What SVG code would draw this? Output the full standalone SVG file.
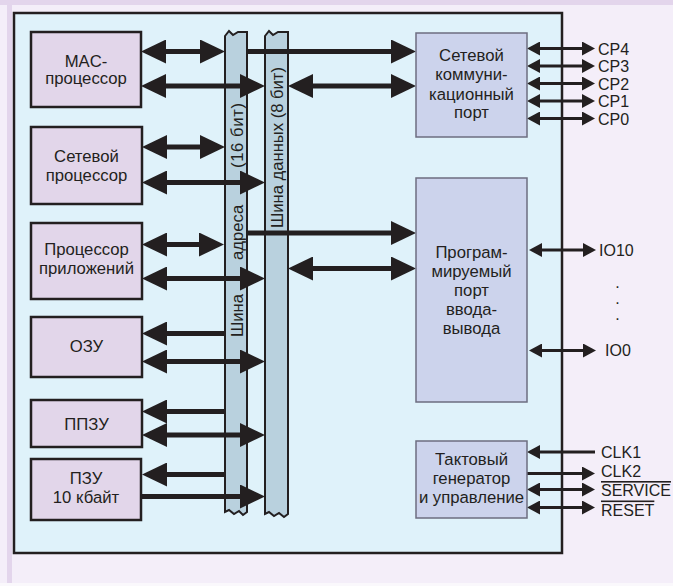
<svg xmlns="http://www.w3.org/2000/svg" width="673" height="586" viewBox="0 0 673 586">
<defs>
<style>
text{font-family:"Liberation Sans","Arial",sans-serif;font-size:16.7px;fill:#231f20}
.c{text-anchor:middle}
.pin{font-size:16px}
.lnode{fill:#e2d6ea;stroke:#231f20;stroke-width:2.5}
.rnode{fill:#ccd3ec;stroke:#6d6e80;stroke-width:1.5}
.bus{fill:#b9d1de;stroke:#231f20;stroke-width:2}
.thick{fill:none;stroke:#231f20;stroke-width:5}
.thin{fill:none;stroke:#231f20;stroke-width:3}
.ov{text-decoration:overline}
</style>
<marker id="big" markerUnits="userSpaceOnUse" markerWidth="26" markerHeight="24" viewBox="0 0 25 24" refX="0" refY="12" orient="auto-start-reverse"><path d="M0,0 L25,12 L0,24 Z" fill="#231f20"/></marker>
<marker id="sm" markerUnits="userSpaceOnUse" markerWidth="14" markerHeight="14" viewBox="0 0 13 14" refX="0" refY="7" orient="auto-start-reverse"><path d="M0,0 L13,7 L0,14 Z" fill="#231f20"/></marker>
</defs>
<rect x="0" y="0" width="673" height="586" fill="#f4eef9"/>
<rect x="0" y="0" width="673" height="5" fill="#e3d5ec"/>
<rect x="7" y="5" width="5" height="578" fill="#e3d5ec"/>
<rect x="0" y="583" width="673" height="3" fill="#faf8fc"/>
<rect id="board" x="14" y="13" width="548" height="540" fill="#dff2fa" stroke="#231f20" stroke-width="2.5"/>

<g id="addr-bus">
<path class="bus" d="M225,36 L229,31 L233,35 L238,32 L247,32 L247,512 L243,515 L239,511 L234,514 L229,510 L225,512 Z"/>
<text transform="translate(242.5,337) rotate(-90)"><tspan x="0" y="0">Шина</tspan><tspan x="77" y="0">адреса</tspan><tspan x="169" y="0" textLength="65" lengthAdjust="spacing">(16 бит)</tspan></text>
</g>
<g id="data-bus">
<path class="bus" d="M265,36 L269,31 L273,35 L278,32 L288,32 L288,514 L284,517 L279,513 L274,516 L269,512 L265,514 Z"/>
<text transform="translate(283,228) rotate(-90)" textLength="161" lengthAdjust="spacing">Шина данных (8 бит)</text>
</g>

<g id="connectors">
<path class="thick" d="M166,51.5 H200" marker-start="url(#big)" marker-end="url(#big)"/>
<path class="thick" d="M166,86 H240" marker-start="url(#big)" marker-end="url(#big)"/>
<path class="thick" d="M247,51.5 H391" marker-end="url(#big)"/>
<path class="thick" d="M313,86 H391" marker-start="url(#big)" marker-end="url(#big)"/>
<path class="thick" d="M167,147 H200" marker-start="url(#big)" marker-end="url(#big)"/>
<path class="thick" d="M167,182.5 H240" marker-start="url(#big)" marker-end="url(#big)"/>
<path class="thick" d="M167,244.5 H199" marker-start="url(#big)" marker-end="url(#big)"/>
<path class="thick" d="M167,278.5 H240" marker-start="url(#big)" marker-end="url(#big)"/>
<path class="thick" d="M247,233 H391" marker-end="url(#big)"/>
<path class="thick" d="M313,268.5 H391" marker-start="url(#big)" marker-end="url(#big)"/>
<path class="thick" d="M225,333.5 H167" marker-end="url(#big)"/>
<path class="thick" d="M167,361.5 H240" marker-start="url(#big)" marker-end="url(#big)"/>
<path class="thick" d="M225,411.5 H167" marker-end="url(#big)"/>
<path class="thick" d="M167,435 H240" marker-start="url(#big)" marker-end="url(#big)"/>
<path class="thick" d="M225,474.5 H167" marker-end="url(#big)"/>
<path class="thick" d="M141,496.5 H240" marker-end="url(#big)"/>

<path class="thin" d="M540,48.5 H582" marker-start="url(#sm)" marker-end="url(#sm)"/>
<path class="thin" d="M540,66 H582" marker-start="url(#sm)" marker-end="url(#sm)"/>
<path class="thin" d="M540,83.5 H582" marker-start="url(#sm)" marker-end="url(#sm)"/>
<path class="thin" d="M540,101 H582" marker-start="url(#sm)" marker-end="url(#sm)"/>
<path class="thin" d="M540,118.5 H582" marker-start="url(#sm)" marker-end="url(#sm)"/>
<path class="thin" d="M542,250 H583" marker-start="url(#sm)" marker-end="url(#sm)"/>
<path class="thin" d="M542,350.5 H583" marker-start="url(#sm)" marker-end="url(#sm)"/>
<path class="thin" d="M595,452 H540" marker-end="url(#sm)"/>
<path class="thin" d="M527,473.5 H582" marker-end="url(#sm)"/>
<path class="thin" d="M540,489.5 H582" marker-start="url(#sm)" marker-end="url(#sm)"/>
<path class="thin" d="M540,507.5 H582" marker-start="url(#sm)" marker-end="url(#sm)"/>
</g>

<g id="mac">
<rect class="lnode" x="31" y="32" width="110" height="75"/>
<text class="c" x="86" y="66.5">MAC-</text>
<text class="c" x="86" y="84">процессор</text>
</g>
<g id="net-proc">
<rect class="lnode" x="31" y="127" width="111" height="77"/>
<text class="c" x="86.5" y="162">Сетевой</text>
<text class="c" x="86.5" y="180.5">процессор</text>
</g>
<g id="app-proc">
<rect class="lnode" x="31" y="223" width="111" height="76"/>
<text class="c" x="86.5" y="255">Процессор</text>
<text class="c" x="86.5" y="274">приложений</text>
</g>
<g id="ram">
<rect class="lnode" x="31" y="317" width="111" height="60"/>
<text class="c" x="86.5" y="352">ОЗУ</text>
</g>
<g id="eeprom">
<rect class="lnode" x="31" y="400" width="111" height="47"/>
<text class="c" x="86.5" y="429.5">ППЗУ</text>
</g>
<g id="rom">
<rect class="lnode" x="31" y="459" width="110" height="61"/>
<text class="c" x="86" y="484">ПЗУ</text>
<text class="c" x="86" y="503">10 кбайт</text>
</g>

<g id="comm-port">
<rect class="rnode" x="416" y="33" width="111" height="104"/>
<text class="c" x="471.5" y="61">Сетевой</text>
<text class="c" x="471.5" y="80">коммуни-</text>
<text class="c" x="471.5" y="99.5">кационный</text>
<text class="c" x="471.5" y="118">порт</text>
</g>
<g id="io-port">
<rect class="rnode" x="416" y="178" width="111" height="224"/>
<text class="c" x="471.5" y="257.5">Програм-</text>
<text class="c" x="471.5" y="276.5">мируемый</text>
<text class="c" x="471.5" y="295.5">порт</text>
<text class="c" x="471.5" y="314.5">ввода-</text>
<text class="c" x="471.5" y="333.5">вывода</text>
</g>
<g id="clock">
<rect class="rnode" x="416" y="441" width="111" height="77"/>
<text class="c" x="471.5" y="465">Тактовый</text>
<text class="c" x="471.5" y="484">генератор</text>
<text class="c" x="471.5" y="503">и управление</text>
</g>

<g id="pins">
<text class="pin" x="598" y="54.5">CP4</text>
<text class="pin" x="598" y="72">CP3</text>
<text class="pin" x="598" y="89.5">CP2</text>
<text class="pin" x="598" y="107">CP1</text>
<text class="pin" x="598" y="124.5">CP0</text>
<text class="pin" x="599" y="255.5">IO10</text>
<text class="pin c" x="617.5" y="288">.</text>
<text class="pin c" x="617.5" y="304">.</text>
<text class="pin c" x="617.5" y="320">.</text>
<text class="pin" x="605" y="356">IO0</text>
<text class="pin" x="601" y="458">CLK1</text>
<text class="pin" x="601" y="477">CLK2</text>
<text class="pin ov" x="601" y="496">SERVICE</text>
<text class="pin ov" x="601" y="515.5">RESET</text>
</g>
</svg>
